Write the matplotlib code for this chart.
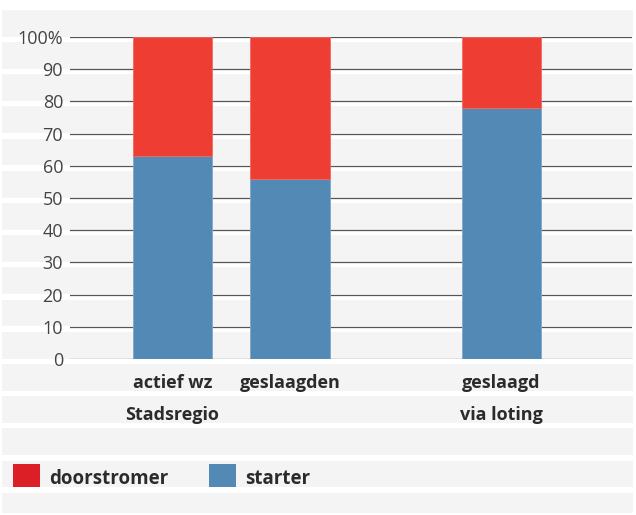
"""
Stacked bar chart: starters vs doorstromers
"""

import numpy as np
import matplotlib
matplotlib.use("Agg")
import matplotlib.pyplot as plt
from matplotlib.patches import Rectangle
from matplotlib.transforms import Affine2D

# Data
categories = ["actief wz\nStadsregio", "geslaagden", "geslaagd\nvia loting"]
starter = [63, 56, 78]
doorstromer = [37, 44, 22]
y_ticks = [0, 10, 20, 30, 40, 50, 60, 70, 80, 90, 100]
y_tick_labels = ["0", "10", "20", "30", "40", "50", "60", "70", "80", "90", "100%"]
series_names = ["doorstromer", "starter"]

# Layout
x_pos = np.array([0, 1, 2.8])
bar_width = 0.677
W, H = 636, 515
red = "#ee3d33"
red_legend = "#dc1f26"
blue = "#5289b5"
band_gray = "#f4f4f4"

plt.rcParams['font.family'] = ['Open Sans', 'DejaVu Sans']

fig = plt.figure(figsize=(W / 100, H / 100), dpi=100)
fig.patch.set_facecolor("white")

# pixel coordinates (origin top-left) -> figure
px = Affine2D().scale(1, -1).translate(0, H).scale(1 / W, 1 / H) + fig.transFigure

# background bands: gray block with white stripes below each row
fig.add_artist(Rectangle((2, 10), 631, 503, transform=px, facecolor=band_gray,
                         edgecolor="none", zorder=0))
for k in range(15):
    y = 37 + 32.2 * k
    fig.add_artist(Rectangle((0, y - 0.5), W, 5.5, transform=px, facecolor="white",
                             edgecolor="none", zorder=0))

ax = fig.add_axes([70 / W, 1 - 359 / H, (632 - 70) / W, (359 - 37) / H])
ax.set_facecolor("none")
ax.set_xlim(-0.872, 3.911)
ax.set_ylim(0, 100)

for t in y_ticks:
    ax.axhline(t, color="#555555", lw=0.9, zorder=1)

ax.bar(x_pos, starter, width=bar_width, color=blue, edgecolor="#7fa8cc",
       linewidth=0.6, zorder=2)
ax.bar(x_pos, doorstromer, bottom=starter, width=bar_width, color=red,
       edgecolor="#f26a62", linewidth=0.6, zorder=2)

ax.set_yticks(y_ticks)
ax.set_yticklabels(y_tick_labels, fontsize=13, color="#444444")
ax.tick_params(axis="y", length=0, pad=5)
ax.set_xticks([])
for s in ax.spines.values():
    s.set_visible(False)

# category labels, one line per band
for x, label in zip(x_pos, categories):
    for i, line in enumerate(label.split("\n")):
        ax.text(x, -7.6 - 9.8 * i, line, ha="center", va="center", fontsize=13,
                fontweight="bold", color="#2b2b2b", clip_on=False)

# legend
legend_x = [13, 209]
legend_colors = [red_legend, blue]
for lx, c, name in zip(legend_x, legend_colors, series_names):
    fig.add_artist(Rectangle((lx, 464), 27, 23, transform=px, facecolor=c,
                             edgecolor="none", zorder=1))
    fig.text((lx + 36) / W, 1 - 479 / H, name, ha="left", va="center",
             fontsize=13.5, fontweight="bold", color="#2b2b2b")

plt.savefig("out.png", dpi=100)
